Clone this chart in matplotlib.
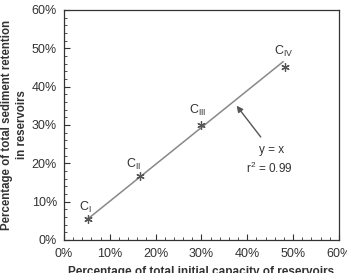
import matplotlib.pyplot as plt
from matplotlib.ticker import MultipleLocator, FuncFormatter

plt.rcParams['font.family'] = ['Liberation Sans', 'DejaVu Sans']

# data
cap_pct = [5.3, 16.6, 29.9, 48.2]
ret_pct = [5.5, 16.7, 30.0, 45.0]
labels = ['I', 'II', 'III', 'IV']

# fitted line y = x
fit_x = [5.0, 47.8]
fit_y = [5.3, 46.5]

fig = plt.figure(figsize=(3.47, 2.73), dpi=100)
ax = fig.add_axes([0.1844, 0.1209, 0.7925, 0.8425])

ax.plot(fit_x, fit_y, color='#888888', lw=1.1)
ax.plot(cap_pct, ret_pct, ls='none', marker=(6, 2, 0), ms=6, mew=0.9, color='#555555')

# point labels
offsets = [(-0.6, 3.1), (-1.5, 2.9), (-0.7, 3.9), (-0.3, 4.1)]
for x, y, lab, (dx, dy) in zip(cap_pct, ret_pct, labels, offsets):
    ax.text(x + dx, y + dy, 'C$_{\\mathregular{' + lab + '}}$', ha='center', va='center',
            fontsize=9, color='#333333')

ax.annotate('', xy=(37.3, 35.6), xytext=(43.3, 26.3),
            arrowprops=dict(arrowstyle='-|>', color='#555555', lw=1.0, mutation_scale=9))
ax.text(45.2, 23.4, 'y = x', ha='center', va='center', fontsize=8.5, color='#333333')
ax.text(44.8, 18.7, 'r$^{\\mathregular{2}}$ = 0.99', ha='center', va='center', fontsize=8.5, color='#333333')

ax.set_xlim(0, 60)
ax.set_ylim(0, 60)
ax.xaxis.set_major_locator(MultipleLocator(10))
ax.yaxis.set_major_locator(MultipleLocator(10))
ax.xaxis.set_minor_locator(MultipleLocator(2))
ax.yaxis.set_minor_locator(MultipleLocator(2))
pct = FuncFormatter(lambda v, p: f'{v:.0f}%')
ax.xaxis.set_major_formatter(pct)
ax.yaxis.set_major_formatter(pct)
ax.tick_params(which='both', direction='in', labelsize=9, labelcolor='#333333', color='#333333')
ax.tick_params(which='major', length=4)
ax.tick_params(which='minor', length=2.5)
ax.tick_params(axis='x', pad=6)
ax.tick_params(axis='y', pad=5)
for s in ax.spines.values():
    s.set_color('#333333')
    s.set_linewidth(0.9)

ax.set_xlabel('Percentage of total initial capacity of reservoirs', fontsize=8.5, fontweight='bold',
              color='#333333', labelpad=4)
ax.set_ylabel('Percentage of total sediment retention\nin reservoirs', fontsize=8.3, fontweight='bold',
              color='#333333', labelpad=3, linespacing=1.25)

fig.savefig('out.png', dpi=100)
